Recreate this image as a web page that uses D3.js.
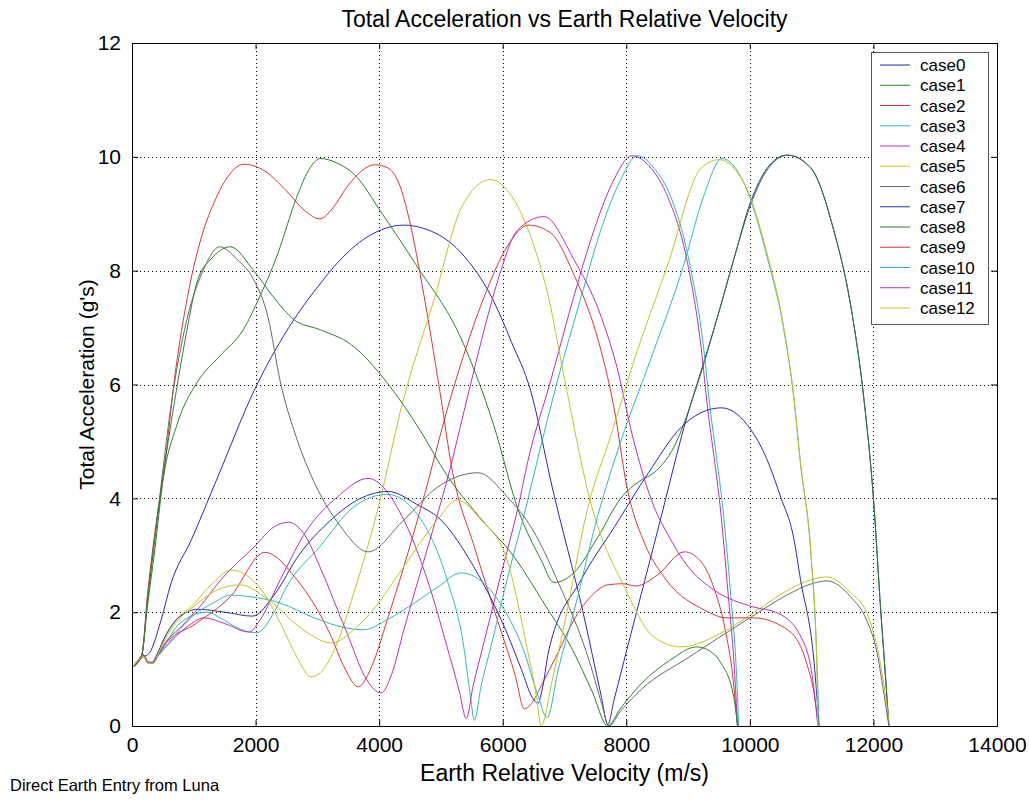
<!DOCTYPE html>
<html><head><meta charset="utf-8">
<script src="https://cdn.jsdelivr.net/npm/d3@7/dist/d3.min.js"></script>
<style>body{margin:0;background:#fff}text{font-family:"Liberation Sans",Arial,sans-serif}</style>
</head><body>
<svg id="chart" width="1029" height="800"></svg>
<script>
const velTicks = [0,2000,4000,6000,8000,10000,12000,14000];
const accTicks = [0,2,4,6,8,10,12];
const caseNames = ["case0","case1","case2","case3","case4","case5","case6","case7","case8","case9","case10","case11","case12"];
const caseColors = ["#2a2ab0","#2f7f2f","#dd3535","#30b8b8","#b830b8","#c4c424","#6a6a6a","#2a2ab0","#2f7f2f","#dd3535","#30b8b8","#b830b8","#c4c424"];

// [velocity m/s, acceleration g]
const case0 = [[0,1.03],[80,1.1],[160,1.2],[280,1.28],[470,1.86],[630,2.5],[960,3.27],[1390,4.38],[1980,5.9],[2620,7.14],[3060,7.79],[3270,8.07],[3820,8.6],[4400,8.8],[4700,8.75],[5330,8.31],[5860,7.45],[6140,6.75],[6450,5.9],[6800,4.2],[7300,2.0],[7600,0.5],[7700,0.02],[7800,0.45],[8000,1.3],[8500,3.4],[9000,5.5],[9200,6.2],[9480,7.2],[9740,8.2],[10010,9.2],[10280,9.8],[10600,10.03],[10990,9.8],[11360,8.7],[11630,7.4],[11840,5.8],[12000,4.0],[12120,2.0],[12200,0.8],[12250,0]];
const case1 = [[0,1.03],[80,1.1],[160,1.25],[250,2.1],[370,3.1],[500,4.3],[730,5.3],[1050,6.03],[1420,6.5],[1800,6.96],[2070,7.55],[2340,8.24],[2670,9.3],[2850,9.75],[3050,9.97],[3300,9.9],[3590,9.7],[4050,9.0],[4600,8.1],[5330,6.8],[5850,5.3],[6250,3.8],[6620,2.92],[6830,2.52],[7150,2.69],[7540,3.32],[7910,4.0],[8240,4.32],[8450,4.45],[8770,4.9],[9150,6.0],[9480,7.2],[9740,8.2],[10010,9.15],[10300,9.8],[10620,10.03],[10990,9.8],[11360,8.7],[11630,7.4],[11840,5.8],[12000,4.0],[12120,2.0],[12200,0.8],[12250,0]];
const case2 = [[0,1.03],[80,1.1],[160,1.25],[250,2.3],[370,3.4],[520,4.5],[700,6.2],[900,7.55],[1100,8.5],[1330,9.2],[1550,9.65],[1810,9.87],[2150,9.75],[2500,9.4],[2800,9.05],[3040,8.91],[3250,9.1],[3500,9.5],[3930,9.86],[4150,9.8],[4350,9.45],[4500,8.84],[4710,7.66],[4980,5.9],[5190,4.45],[5540,3.15],[5980,1.64],[6200,0.9],[6350,0.3],[6500,0.45],[6620,0.7],[6900,1.3],[7150,1.86],[7450,2.3],[7700,2.48],[7950,2.5],[8150,2.46],[8500,2.65],[8940,3.06],[9200,2.9],[9430,2.39],[9600,1.7],[9720,0.9],[9800,0]];
const case3 = [[0,1.03],[100,1.15],[180,1.25],[260,1.12],[330,1.1],[400,1.2],[780,1.81],[1210,2.0],[1500,1.85],[1800,1.68],[2020,1.64],[2300,2.0],[2500,2.44],[3040,3.15],[3590,3.85],[4130,4.07],[4680,3.62],[5100,2.57],[5370,1.39],[5480,0.5],[5540,0.1],[5650,0.7],[5810,1.4],[6070,2.57],[6390,3.9],[6550,4.62],[6890,6.08],[7270,7.54],[7590,8.72],[7910,9.6],[8180,10.02],[8450,9.8],[8720,9.3],[9030,8.1],[9250,6.66],[9360,5.55],[9460,4.73],[9560,3.85],[9690,2.3],[9780,1.0],[9820,0]];
const case4 = [[0,1.03],[100,1.15],[180,1.25],[260,1.12],[330,1.1],[400,1.2],[600,1.45],[900,1.75],[1170,1.9],[1500,1.8],[1900,1.65],[2070,1.86],[2400,2.57],[2830,3.44],[3320,4.02],[3820,4.35],[4400,3.62],[4780,2.57],[5100,1.39],[5300,0.6],[5410,0.13],[5520,0.7],[5680,1.4],[5950,2.57],[6260,3.9],[6400,4.62],[6780,6.08],[7150,7.54],[7480,8.72],[7800,9.6],[8090,10.02],[8400,9.8],[8670,9.3],[8990,8.14],[9210,6.66],[9320,5.55],[9420,4.73],[9520,3.85],[9650,2.3],[9750,1.0],[9800,0]];
const case5 = [[0,1.03],[100,1.15],[180,1.22],[260,1.1],[340,1.1],[500,1.5],[700,1.85],[960,2.1],[1300,2.5],[1600,2.74],[1850,2.65],[2130,2.34],[2400,1.81],[2670,1.21],[2900,0.86],[3100,1.0],[3300,1.4],[3550,2.2],[3800,3.1],[4000,3.9],[4360,5.6],[4890,7.5],[5330,9.1],[5800,9.6],[6150,9.3],[6510,8.42],[6740,7.54],[7000,6.1],[7430,3.9],[7970,2.44],[8450,1.56],[8890,1.39],[9530,1.63],[10060,1.99],[10620,2.39],[11100,2.6],[11250,2.62],[11630,2.34],[11890,1.99],[12060,1.39],[12200,0.5],[12260,0]];
const case6 = [[0,1.03],[80,1.1],[160,1.25],[250,2.2],[370,3.3],[500,4.5],[615,5.5],[850,6.96],[1150,8.0],[1420,8.42],[1700,8.2],[1970,7.84],[2200,7.19],[2400,6.05],[2650,5.1],[2900,4.4],[3380,3.5],[3820,3.06],[4400,3.62],[4950,4.2],[5600,4.45],[6070,4.03],[6490,3.44],[6880,2.57],[7410,1.11],[7600,0.4],[7720,0],[7900,0.25],[8250,0.65],[9000,1.2],[10000,1.9],[10600,2.3],[11000,2.5],[11250,2.55],[11630,2.27],[11890,1.86],[12060,1.28],[12160,0.63],[12250,0]];
const case7 = [[0,1.03],[100,1.15],[180,1.25],[260,1.12],[330,1.12],[400,1.25],[550,1.6],[750,1.9],[1070,2.05],[1500,2.0],[1950,1.93],[2300,2.3],[2700,3.0],[3200,3.6],[3700,4.0],[4150,4.12],[4600,3.9],[5000,3.62],[5530,2.8],[6070,1.63],[6300,1.0],[6480,0.5],[6570,0.4],[6650,0.7],[6740,1.3],[7270,2.57],[7810,3.5],[8360,4.45],[8890,5.25],[9200,5.5],[9540,5.59],[10020,5.2],[10230,4.8],[10500,4.02],[10710,3.3],[10820,2.57],[11040,1.11],[11120,0]];
const case8 = [[0,1.03],[80,1.1],[160,1.25],[250,2.2],[370,3.3],[500,4.38],[615,5.2],[750,6.1],[890,6.96],[1050,7.79],[1310,8.24],[1590,8.42],[1970,8.0],[2280,7.55],[2620,7.14],[3050,6.96],[3550,6.7],[4130,6.03],[4660,5.2],[5100,4.4],[5600,3.7],[6200,2.95],[6700,2.1],[7100,1.4],[7450,0.6],[7700,0],[7900,0.3],[8250,0.75],[8700,1.15],[9140,1.39],[9400,1.28],[9530,1.11],[9740,0.51],[9800,0]];
const case9 = [[0,1.03],[100,1.15],[180,1.25],[260,1.12],[330,1.1],[400,1.2],[500,1.39],[1050,1.81],[1590,2.27],[2150,3.05],[2670,2.57],[3200,1.63],[3450,1.0],[3660,0.69],[3900,1.1],[4130,1.86],[4400,2.8],[4680,3.85],[5160,5.78],[5700,7.54],[6070,8.42],[6420,8.8],[6780,8.66],[7140,7.96],[7590,6.6],[7800,5.6],[8010,4.2],[8300,3.2],[8610,2.62],[9260,2.04],[9630,1.9],[10060,1.9],[10610,1.69],[10920,1.1],[11050,0.5],[11110,0]];
const case10 = [[0,1.03],[100,1.15],[180,1.25],[260,1.12],[330,1.1],[400,1.2],[700,1.6],[1000,1.95],[1300,2.15],[1600,2.3],[1850,2.28],[2400,2.16],[2950,1.9],[3480,1.72],[3750,1.69],[4100,1.85],[4400,2.04],[4950,2.44],[5320,2.69],[5760,2.44],[6100,1.9],[6350,1.3],[6550,0.6],[6720,0.15],[6900,1.0],[7150,2.0],[7540,3.7],[7910,5.0],[8380,6.4],[8930,8.1],[9250,9.3],[9550,9.97],[9900,9.55],[10280,8.24],[10550,6.96],[10710,5.78],[10820,4.62],[10990,3.0],[11080,1.3],[11120,0]];
const case11 = [[0,1.03],[100,1.15],[180,1.25],[260,1.12],[330,1.1],[400,1.2],[500,1.4],[800,1.75],[1100,2.1],[1440,2.57],[1980,3.15],[2300,3.5],[2530,3.58],[2800,3.35],[3040,2.8],[3480,1.63],[3800,0.81],[4030,0.58],[4200,0.9],[4400,1.69],[4790,3.15],[5100,4.32],[5430,5.78],[5700,6.96],[5970,8.0],[6230,8.7],[6670,8.95],[7150,8.2],[7590,7.2],[7850,6.3],[8100,5.1],[8450,3.85],[8660,3.39],[9000,2.8],[9420,2.39],[10060,2.09],[10440,1.99],[10830,1.56],[11020,0.8],[11100,0]];
const case12 = [[0,1.03],[100,1.15],[180,1.22],[260,1.1],[340,1.1],[500,1.45],[700,1.8],[1000,2.1],[1400,2.4],[1750,2.48],[2230,2.2],[2770,1.69],[3230,1.46],[3600,1.7],[3900,2.04],[4400,2.8],[4940,3.62],[5260,3.97],[5650,3.62],[6070,2.92],[6390,1.39],[6550,0.5],[6620,0],[6800,0.8],[7000,1.8],[7380,3.85],[7750,5.1],[8120,6.4],[8670,8.1],[9210,9.8],[9500,9.95],[9900,9.55],[10280,8.3],[10550,7.0],[10710,5.8],[10820,4.6],[10990,3.0],[11080,1.2],[11100,0]];
const caseData = [case0,case1,case2,case3,case4,case5,case6,case7,case8,case9,case10,case11,case12];

const svg = d3.select("#chart");
const L = 132, R = 997, T = 43, B = 726;
const x = d3.scaleLinear().domain([0,14000]).range([L,R]);
const y = d3.scaleLinear().domain([0,12]).range([B,T]);

// grid
const grid = svg.append("g").attr("stroke","#000").attr("stroke-width",1).attr("stroke-dasharray","1,3");
grid.selectAll("line.v").data(velTicks.slice(1,-1)).join("line")
  .attr("x1",d=>Math.round(x(d))+0.5).attr("x2",d=>Math.round(x(d))+0.5).attr("y1",T).attr("y2",B);
grid.selectAll("line.h").data(accTicks.slice(1,-1)).join("line")
  .attr("y1",d=>Math.round(y(d))+0.5).attr("y2",d=>Math.round(y(d))+0.5).attr("x1",L).attr("x2",R);

// curves
svg.append("clipPath").attr("id","clip").append("rect").attr("x",L).attr("y",T).attr("width",R-L).attr("height",B-T);
const line = d3.line().x(d=>x(d[0])).y(d=>y(d[1])).curve(d3.curveMonotoneX);
svg.append("g").attr("clip-path","url(#clip)").selectAll("path").data(caseData).join("path")
  .attr("d",line).attr("fill","none").attr("stroke",(d,i)=>caseColors[i]).attr("stroke-width",1);

// axes
const ax = (g)=>g.selectAll("text").attr("font-size","21px").attr("fill","#000").attr("font-family","Liberation Sans, Arial, sans-serif");
svg.append("g").attr("transform",`translate(0,${B})`)
  .call(d3.axisBottom(x).tickValues(velTicks).tickFormat(d3.format("d")).tickSize(-6).tickPadding(11)).call(ax);
svg.append("g").attr("transform",`translate(${L},0)`)
  .call(d3.axisLeft(y).tickValues(accTicks).tickFormat(d3.format("d")).tickSize(-6).tickPadding(11)).call(ax);
svg.append("g").attr("transform",`translate(0,${T})`)
  .call(d3.axisTop(x).tickValues(velTicks).tickSize(-6).tickFormat(""));
svg.append("g").attr("transform",`translate(${R},0)`)
  .call(d3.axisRight(y).tickValues(accTicks).tickSize(-6).tickFormat(""));
svg.selectAll(".domain").attr("stroke","#000");

// labels
svg.append("text").attr("x",(L+R)/2).attr("y",27).attr("text-anchor","middle").attr("font-size","23px").text("Total Acceleration vs Earth Relative Velocity");
svg.append("text").attr("x",(L+R)/2).attr("y",781).attr("text-anchor","middle").attr("font-size","23px").text("Earth Relative Velocity (m/s)");
svg.append("text").attr("transform",`translate(94,${(T+B)/2}) rotate(-90)`).attr("text-anchor","middle").attr("font-size","21px").text("Total Acceleration (g's)");
svg.append("text").attr("x",10).attr("y",791).attr("font-size","16.5px").text("Direct Earth Entry from Luna");

// legend
const lg = svg.append("g");
lg.append("rect").attr("x",871.5).attr("y",52.5).attr("width",117).attr("height",272).attr("fill","#fff").attr("stroke","#555");
const items = lg.selectAll("g.item").data(caseNames).join("g").attr("transform",(d,i)=>`translate(0,${65+i*20.25})`);
items.append("line").attr("x1",880).attr("x2",910).attr("stroke",(d,i)=>caseColors[i]).attr("stroke-width",1);
items.append("text").attr("x",920).attr("y",6).attr("font-size","17px").text(d=>d);
</script>
</body></html>
